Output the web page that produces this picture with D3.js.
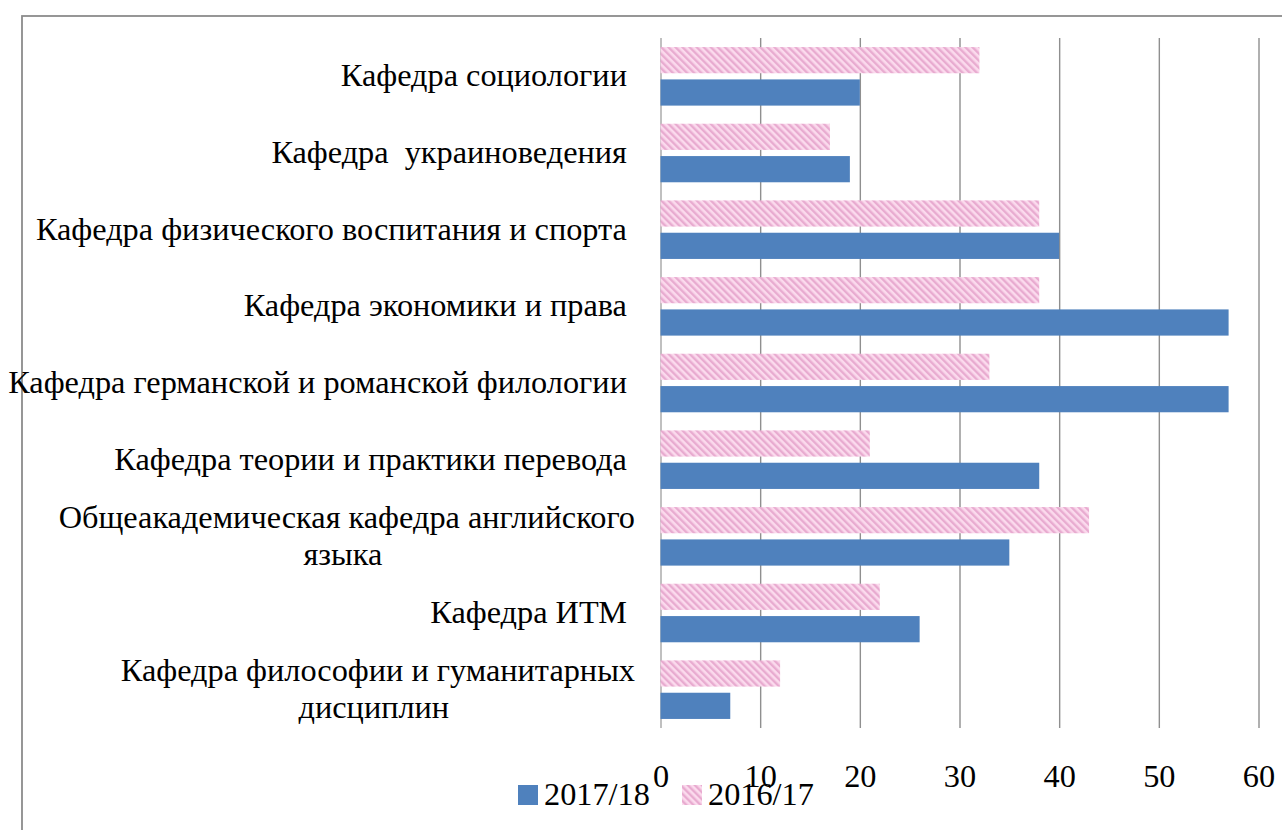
<!DOCTYPE html>
<html>
<head>
<meta charset="utf-8">
<script src="https://cdn.jsdelivr.net/npm/d3@7"></script>
<style>
  body { margin: 0; background: #fff; }
  text { font-family: "Liberation Serif", "Times New Roman", serif; fill: #000; }
</style>
</head>
<body>
<script>
// категории сверху вниз, "\n" — перенос строки как в исходнике
var categories = [
    "Кафедра социологии ",
    "Кафедра  украиноведения ",
    "Кафедра физического воспитания и спорта ",
    "Кафедра экономики и права ",
    "Кафедра германской и романской филологии ",
    "Кафедра теории и практики перевода ",
    "Общеакадемическая кафедра английского\nязыка ",
    "Кафедра ИТМ ",
    "Кафедра философии и гуманитарных\nдисциплин "
];
var values1617 = [32, 17, 38, 38, 33, 21, 43, 22, 12];
var values1718 = [20, 19, 40, 57, 57, 38, 35, 26, 7];
var seriesNames = ["2016/17", "2017/18"];
var xTicks = [0, 10, 20, 30, 40, 50, 60];

var W = 1282, H = 830;
var margin = { top: 38, left: 660.5, right: 23.5, bottom: 102 };
var blue = "#4f81bd";
var fontBig = "32.3px";

var svg = d3.select("body").append("svg").attr("width", W).attr("height", H);
svg.append("rect").attr("width", W).attr("height", H).attr("fill", "#fff");

// штриховка для 2016/17
var defs = svg.append("defs");
var pat = defs.append("pattern")
    .attr("id", "hatch")
    .attr("patternUnits", "userSpaceOnUse")
    .attr("width", 5).attr("height", 5)
    .attr("patternTransform", "rotate(-45)");
pat.append("rect").attr("width", 5).attr("height", 5).attr("fill", "#fbdaed");
pat.append("rect").attr("width", 2.4).attr("height", 5).attr("fill", "#e8abd0");

// рамка области диаграммы
svg.append("rect")
    .attr("x", 22).attr("y", 16)
    .attr("width", 1400).attr("height", 1000)
    .attr("fill", "none").attr("stroke", "#8c8c8c").attr("stroke-width", 1.8);

var x = d3.scaleLinear().domain([0, 60]).range([margin.left, W - margin.right]);
var y0 = d3.scaleBand().domain(categories).range([margin.top, H - margin.bottom]);
var y1 = d3.scaleBand().domain(seriesNames).range([0, y0.bandwidth()])
    .paddingInner(0.19).paddingOuter(0.28);

// вертикальная сетка
var grid = svg.append("g")
    .attr("transform", "translate(0," + (H - margin.bottom) + ")")
    .call(d3.axisBottom(x).tickValues(xTicks).tickSize(-(H - margin.bottom - margin.top)).tickFormat(""));
grid.select(".domain").remove();
grid.selectAll(".tick line")
    .attr("stroke", function (d) { return d === 0 ? "#c0c0c0" : "#8f8f8f"; })
    .attr("stroke-width", function (d) { return d === 0 ? 2 : 1.4; });

// подписи оси X
var xAxis = svg.append("g")
    .attr("transform", "translate(0," + (H - margin.bottom) + ")")
    .call(d3.axisBottom(x).tickValues(xTicks).tickSize(0).tickPadding(0));
xAxis.select(".domain").remove();
xAxis.selectAll("text")
    .attr("dy", null)
    .attr("y", 59)
    .style("font-size", fontBig)
    .style("font-family", "'Liberation Serif', 'Times New Roman', serif");

// столбцы
var rows = categories.map(function (c, i) {
    return { cat: c, vals: [{ s: "2016/17", v: values1617[i] }, { s: "2017/18", v: values1718[i] }] };
});
var g = svg.selectAll(".row").data(rows).enter().append("g")
    .attr("class", "row")
    .attr("transform", function (d) { return "translate(0," + y0(d.cat) + ")"; });
g.selectAll("rect").data(function (d) { return d.vals; }).enter().append("rect")
    .attr("x", x(0))
    .attr("y", function (d) { return y1(d.s); })
    .attr("width", function (d) { return x(d.v) - x(0); })
    .attr("height", y1.bandwidth())
    .attr("fill", function (d) { return d.s === "2017/18" ? blue : "url(#hatch)"; });

// подписи категорий
var labelRight = 635, lineH = 37.5;
categories.forEach(function (c) {
    var lines = c.split("\n");
    var cy = y0(c) + y0.bandwidth() / 2;
    var t = svg.append("text")
        .style("font-size", fontBig)
        .style("white-space", "pre");
    lines.forEach(function (ln, k) {
        t.append("tspan")
            .attr("y", cy + 10 + (k - (lines.length - 1) / 2) * lineH)
            .text(ln);
    });
    if (lines.length === 1) {
        t.attr("text-anchor", "end").selectAll("tspan").attr("x", labelRight);
    } else {
        var maxW = 0;
        t.selectAll("tspan").each(function () { maxW = Math.max(maxW, this.getComputedTextLength()); });
        t.attr("text-anchor", "middle").selectAll("tspan").attr("x", labelRight - maxW / 2);
    }
});

// легенда
var legend = [
    { name: "2017/18", fill: blue, x: 518 },
    { name: "2016/17", fill: "url(#hatch)", x: 682 }
];
var lg = svg.selectAll(".leg").data(legend).enter().append("g").attr("class", "leg");
lg.append("rect")
    .attr("x", function (d) { return d.x; }).attr("y", 785)
    .attr("width", 20).attr("height", 20)
    .attr("fill", function (d) { return d.fill; });
lg.append("text")
    .attr("x", function (d) { return d.x + 26; }).attr("y", 805)
    .style("font-size", fontBig)
    .text(function (d) { return d.name; });
</script>
</body>
</html>
